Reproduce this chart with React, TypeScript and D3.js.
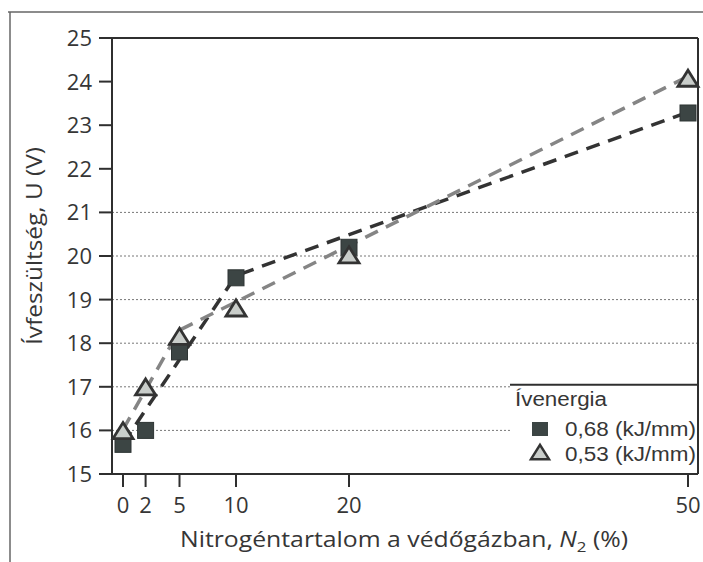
import * as d3 from 'd3';
import React from "react";

const WIDTH = 703;
const HEIGHT = 562;

// N2 content (%) and arc voltage (V)
const nitrogen = [0, 2, 5, 10, 20, 50];
const voltageHigh = [15.68, 16.0, 17.8, 19.5, 20.2, 23.28];   // 0,68 kJ/mm
const voltageLow = [16.02, 17.02, 18.18, 18.83, 20.05, 24.1];  // 0,53 kJ/mm

// dashed trend lines (break points)
const trendHigh: [number, number][] = [[0, 15.7], [10, 19.55], [50, 23.3]];
const trendLow: [number, number][] = [[0, 16.02], [5, 18.3], [50, 24.12]];

const yTicks = [15, 16, 17, 18, 19, 20, 21, 22, 23, 24, 25];
const gridValues = [16, 17, 18, 19, 20, 21];
const legendLabels = ["0,68 (kJ/mm)", "0,53 (kJ/mm)"];

const DARK = "#3c4544";
const LIGHT_FILL = "#c9cdca";
const AXIS = "#2f2f2f";
const TEXT = "#363636";
const FONT = "'Open Sans', sans-serif";
const LEG_FONT = "'Liberation Sans', Arial, sans-serif";

const x = d3.scaleLinear().domain([0, 50]).range([123, 688]);
const y = d3.scaleLinear().domain([15, 25]).range([474, 38]);

const PLOT_L = 112;
const PLOT_R = 698;

const line = d3.line<[number, number]>().x(d => x(d[0])).y(d => y(d[1]));

const triPath = (cx: number, cy: number, w: number) => {
    const h = w * 0.8;
    return `M${cx},${cy - h / 2}L${cx + w / 2},${cy + h / 2}L${cx - w / 2},${cy + h / 2}Z`;
};

const App: React.FC = () => {
    return (
        <svg width={WIDTH} height={HEIGHT} style={{position: "absolute", left: 0, top: 0, background: "#fff"}}>
            {/* scan frame */}
            <line x1={8} x2={WIDTH} y1={12} y2={12} stroke="#666" strokeWidth={1.5}/>
            <line x1={10} x2={10} y1={12} y2={HEIGHT} stroke="#666" strokeWidth={1.5}/>

            {/* grid */}
            {gridValues.map(v => (
                <line key={v} x1={PLOT_L} x2={PLOT_R} y1={y(v)} y2={y(v)}
                      stroke="#777" strokeWidth={1} strokeDasharray="2 2"/>
            ))}

            {/* legend box (white, covers grid) */}
            <rect x={510} y={y(17) - 2} width={PLOT_R - 510} height={y(15) - y(17) + 2} fill="#fff"/>
            <line x1={510} x2={PLOT_R} y1={y(17) - 2} y2={y(17) - 2} stroke={AXIS} strokeWidth={2}/>

            {/* plot frame */}
            <line x1={PLOT_L} x2={PLOT_R} y1={y(25)} y2={y(25)} stroke={AXIS} strokeWidth={2}/>
            <line x1={PLOT_R} x2={PLOT_R} y1={y(25)} y2={y(15)} stroke={AXIS} strokeWidth={2}/>
            <line x1={PLOT_L} x2={PLOT_L} y1={y(25)} y2={y(15)} stroke={AXIS} strokeWidth={2}/>
            <line x1={100} x2={PLOT_R} y1={y(15)} y2={y(15)} stroke={AXIS} strokeWidth={2}/>

            {/* y ticks */}
            {yTicks.map(v => (
                <g key={v}>
                    <line x1={99} x2={PLOT_L} y1={y(v)} y2={y(v)} stroke={AXIS} strokeWidth={2}/>
                    <text x={92} y={y(v)} dy="0.36em" textAnchor="end" fontFamily={FONT}
                          fontSize={22} fill={TEXT}>{v}</text>
                </g>
            ))}

            {/* x ticks */}
            {nitrogen.map(v => (
                <g key={v}>
                    <line x1={x(v)} x2={x(v)} y1={y(15)} y2={y(15) + 13} stroke={AXIS} strokeWidth={2}/>
                    <text x={x(v)} y={513} textAnchor="middle" fontFamily={FONT}
                          fontSize={22} fill={TEXT}>{v}</text>
                </g>
            ))}

            {/* axis titles */}
            <text transform={`translate(42,246) rotate(-90)`} textAnchor="middle" fontFamily={FONT}
                  fontSize={22} fill={TEXT} textLength={198} lengthAdjust="spacingAndGlyphs">Ívfeszültség, U (V)</text>
            <text x={180} y={547} fontFamily={FONT} fontSize={22} fill={TEXT}
                  textLength={448} lengthAdjust="spacingAndGlyphs">
                Nitrogéntartalom a védőgázban, <tspan fontStyle="italic">N</tspan>
                <tspan fontSize={15} dy={5}>2</tspan><tspan dy={-5}> (%)</tspan>
            </text>

            {/* trend lines */}
            <path d={line(trendHigh) || ""} fill="none" stroke="#333" strokeWidth={3.5}
                  strokeDasharray="14 9"/>
            <path d={line(trendLow) || ""} fill="none" stroke="#858585" strokeWidth={3.5}
                  strokeDasharray="14 9"/>

            {/* markers */}
            {nitrogen.map((v, i) => (
                <rect key={"s" + v} x={x(v) - 8} y={y(voltageHigh[i]) - 8} width={16} height={16}
                      fill={DARK} stroke="#2e3534" strokeWidth={1}/>
            ))}
            {nitrogen.map((v, i) => (
                <path key={"t" + v} d={triPath(x(v), y(voltageLow[i]) + 1, 20)}
                      fill={LIGHT_FILL} stroke="#333" strokeWidth={2.8} strokeLinejoin="miter"/>
            ))}

            {/* legend */}
            <text x={515} y={406} fontFamily={LEG_FONT} fontSize={20} fill={TEXT}
                  textLength={92} lengthAdjust="spacingAndGlyphs">Ívenergia</text>
            <rect x={532} y={422} width={16} height={14} fill={DARK}/>
            <path d={triPath(540, 452, 18)} fill={LIGHT_FILL} stroke="#333" strokeWidth={2.5}/>
            {legendLabels.map((t, i) => (
                <text key={t} x={565} y={436 + i * 25} fontFamily={LEG_FONT}
                      fontSize={20} fill={TEXT} textLength={131} lengthAdjust="spacingAndGlyphs">{t}</text>
            ))}
        </svg>
    );
};

export default App;
